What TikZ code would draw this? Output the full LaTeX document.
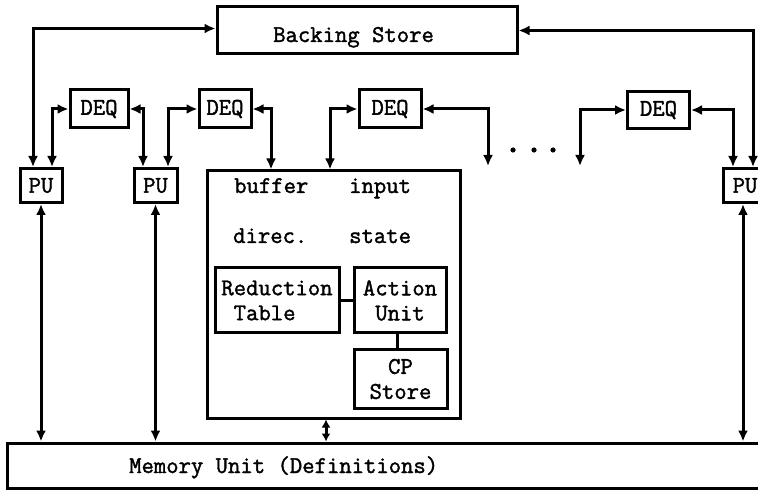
\documentclass[tikz,border=0pt]{standalone}
\usepackage{fontspec}
\newfontfamily\typew[FakeBold=1.6]{Latin Modern Mono}
\usetikzlibrary{arrows.meta}
\begin{document}
\begin{tikzpicture}[x=1pt,y=-1pt,
  tt/.style={font=\fontsize{24}{25}\selectfont\typew},
  box/.style={tt, draw, line width=3pt, inner sep=0pt},
  txt/.style={tt, inner sep=0pt, anchor=base west},
  tip/.tip={Latex[length=11pt,width=10pt]},
  conn/.style={line width=3pt, tip-tip},
  link/.style={line width=3pt}
]
\useasboundingbox (0,0) rectangle (758,494);

% boxes
\node[box, minimum width=300, minimum height=47] (BS) at (367,30.5) {};
\node[txt] (BSt) at (273,42) {Backing Store};
\node[box, minimum width=58, minimum height=38] (DEQ1) at (99,109) {DEQ};
\node[box, minimum width=52, minimum height=38] (DEQ2) at (225,109) {DEQ};
\node[box, minimum width=62, minimum height=38] (DEQ3) at (390,109) {DEQ};
\node[box, minimum width=62, minimum height=37] (DEQ4) at (658.5,110) {DEQ};
\node[box, minimum width=42, minimum height=34] (PU1) at (41,185.5) {PU};
\node[box, minimum width=43, minimum height=34] (PU2) at (155.5,185.5) {PU};
\node[box, minimum width=44, minimum height=34] (PU3) at (745,185.5) {PU};
\node[box, minimum width=253, minimum height=247] (BB) at (333.5,294.5) {};
\node[box, minimum width=763, minimum height=45] (MU) at (388.5,465.5) {};
\node[txt] (MUt) at (129,473) {Memory Unit (Definitions)};

% inside big box
\node[txt] (buf) at (234,193) {buffer};
\node[txt] (inp) at (349,193) {input};
\node[txt] (dir) at (233,243) {direc.};
\node[txt] (sta) at (349,243) {state};
\node[box, minimum width=124, minimum height=65, align=left] (RT) at (277,300.5) {Reduction\\\phantom{R}Table};
\node[box, minimum width=92, minimum height=65, align=center] (AU) at (400,300.5) {Action\\Unit};
\node[box, minimum width=93, minimum height=58, align=center] (CP) at (400.5,379) {CP\\Store};
\draw[link] (RT.east) -- (AU.west);
\draw[link] ([xshift=-3]AU.south) -- ([xshift=-3]AU.south |- CP.north);

% backing store connections
\draw[conn] ([xshift=-8]PU1.north) |- ([yshift=2]BS.west);
\draw[conn] (BS.east) -| ([xshift=8]PU3.north);

% DEQ connections
\draw[conn] (DEQ1.west) -| ([xshift=11]PU1.north);
\draw[conn] (DEQ1.east) -| ([xshift=-12.5]PU2.north);
\draw[conn] (DEQ2.west) -| ([xshift=12.5]PU2.north);
\draw[conn] (DEQ2.east) -| ([xshift=-62.5]BB.north);
\draw[conn] (DEQ3.west) -| ([xshift=-3.5]BB.north);
\coordinate (free1) at (488,166);
\coordinate (free2) at (580,166);
\draw[conn] (DEQ3.east) -| (free1);
\draw[conn] (DEQ4.west) -| (free2);
\draw[conn] (DEQ4.east) -| ([xshift=-12]PU3.north);

% dots
\fill (513,150) circle (2.6) (534,150) circle (2.6) (553,150) circle (2.6);

% memory connections
\draw[conn] (PU1.south) -- (PU1.south |- MU.north);
\draw[conn] (PU2.south) -- (PU2.south |- MU.north);
\draw[conn] ([xshift=-2]PU3.south) -- ([xshift=-2]PU3.south |- MU.north);
\draw[line width=3pt, {Latex[length=8pt,width=9pt]}-{Latex[length=8pt,width=9pt]}] ([xshift=-7.5]BB.south) -- ([xshift=-7.5]BB.south |- MU.north);
\end{tikzpicture}
\end{document}
